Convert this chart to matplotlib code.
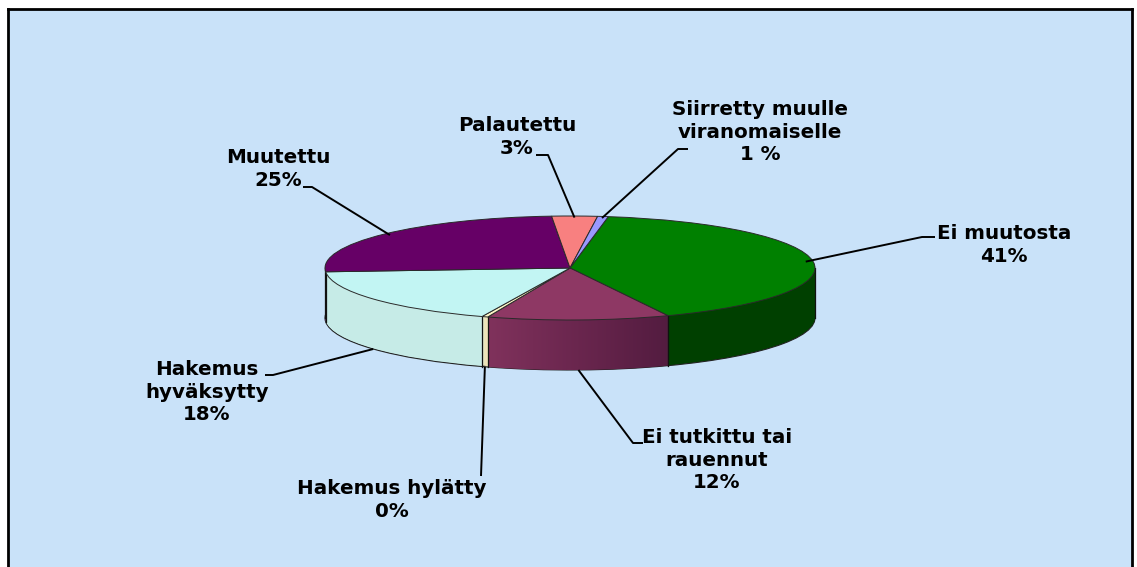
import numpy as np
import matplotlib
matplotlib.use("Agg")
import matplotlib.pyplot as plt
from matplotlib.patches import Polygon
from matplotlib.colors import LinearSegmentedColormap

# ---- data ----
categories = ["Ei muutosta", "Ei tutkittu tai\nrauennut", "Hakemus hylätty",
              "Hakemus\nhyväksytty", "Muutettu", "Palautettu",
              "Siirretty muulle\nviranomaiselle"]
values = [41, 12, 0.4, 18, 25, 3, 0.7]
pct_labels = ["41%", "12%", "0%", "18%", "25%", "3%", "1 %"]

# ---- styles ----
top_colors = ["#008000", "#8E3864", "#FFF7C8", "#C2F5F3", "#660066", "#F88080", "#9999FF"]
side_colors = ["#004000", "#6E2850", "#EDE3B8", "#C6EBE7", "#4A004A", "#C06060", "#7070CC"]
BG = "#C9E2F9"

W, H = 1137, 567
CX, CY, RX, RY, DEPTH = 570, 268, 245, 52, 50  # pixel geometry of the pie


def d(xp, yp):
    return ((xp - CX) / RX, (CY - yp) / RY)


fig = plt.figure(figsize=(W / 100, H / 100), dpi=100)
fig.patch.set_facecolor("white")
ax = fig.add_axes([8 / W, -6 / H, (1132 - 8) / W, (573 - 9) / H])

D = DEPTH / RY
n_layers = 50
start = 81
for k in range(n_layers, 0, -1):
    off = -D * k / n_layers
    wp = dict(linewidth=0.8 if k == n_layers else 0,
              edgecolor="#222222" if k == n_layers else "none")
    ax.pie(values, colors=side_colors, startangle=start, counterclock=False,
           center=(0, off), radius=1, wedgeprops=wp, frame=True)

wedges, _ = ax.pie(values, colors=top_colors, startangle=start, counterclock=False,
                   center=(0, 0), radius=1,
                   wedgeprops=dict(linewidth=0.7, edgecolor="#2a2a2a"), frame=True)
for w in wedges:
    w.set_zorder(3)

# shaded side wall for the "Ei tutkittu" slice (horizontal gradient)
wm = wedges[1]
th = np.deg2rad(np.linspace(wm.theta1, wm.theta2, 60))
poly_pts = np.vstack([np.c_[np.cos(th), np.sin(th)],
                      np.c_[np.cos(th[::-1]), np.sin(th[::-1]) - D]])
clip = Polygon(poly_pts, closed=True, facecolor="none", edgecolor="none")
ax.add_patch(clip)
cmap = LinearSegmentedColormap.from_list("side", ["#80325C", "#6A264E", "#531C40"])
x0, x1 = np.cos(th).min(), np.cos(th).max()
grad = np.linspace(0, 1, 256)[None, :]
im = ax.imshow(grad, cmap=cmap, extent=(x0, x1, np.sin(th).min() - D - 0.05, 0),
               aspect="auto", zorder=2, interpolation="bicubic")
im.set_clip_path(clip)

# vertical edges on the visible side wall
bounds = set()
for w in wedges:
    for t in (w.theta1, w.theta2):
        bounds.add(round(t % 360, 3))
bounds.update([0.0, 180.0])
for t in bounds:
    r = np.deg2rad(t)
    if np.sin(r) <= 1e-6:
        ax.plot([np.cos(r)] * 2, [np.sin(r), np.sin(r) - D], color="#111111", lw=0.9,
                zorder=2.5)

ax.set_aspect("auto")
ax.set_xlim((8 - CX) / RX, (1132 - CX) / RX)
ax.set_ylim((CY - 573) / RY, (CY - 9) / RY)
ax.set_facecolor(BG)
ax.set_frame_on(True)
for s in ax.spines.values():
    s.set_linewidth(2)
    s.set_color("black")
ax.set_xticks([])
ax.set_yticks([])

# ---- labels & leader lines (layout in pixels) ----
text_pos = [(1004, 245), (717, 460), (392, 500), (207, 392), (278, 169), (517, 137), (760, 132)]
leader = [[(922, 237), (935, 237)],
          [(633, 443), (643, 443)],
          [(481, 476)],
          [(273, 375), (265, 375)],
          [(312, 187), (303, 187)],
          [(548, 155), (536, 155)],
          [(678, 149), (688, 149)]]

for w, cat, pct, tp, ld in zip(wedges, categories, pct_labels, text_pos, leader):
    mid = np.deg2rad((w.theta1 + w.theta2) / 2)
    if np.sin(mid) < 0:
        ax_pt = (np.cos(mid), np.sin(mid) - D)
    else:
        ax_pt = (0.97 * np.cos(mid), 0.97 * np.sin(mid))
    pts = [ax_pt] + [d(*p) for p in ld]
    ax.plot([p[0] for p in pts], [p[1] for p in pts], color="black", lw=1.4,
            solid_capstyle="butt", zorder=4)
    ax.text(*d(*tp), f"{cat}\n{pct}", ha="center", va="center", multialignment="center",
            fontsize=14.3, fontweight="bold", family="DejaVu Sans", linespacing=1.25,
            color="black", zorder=5)

fig.savefig("out.png", dpi=100, facecolor="white")
